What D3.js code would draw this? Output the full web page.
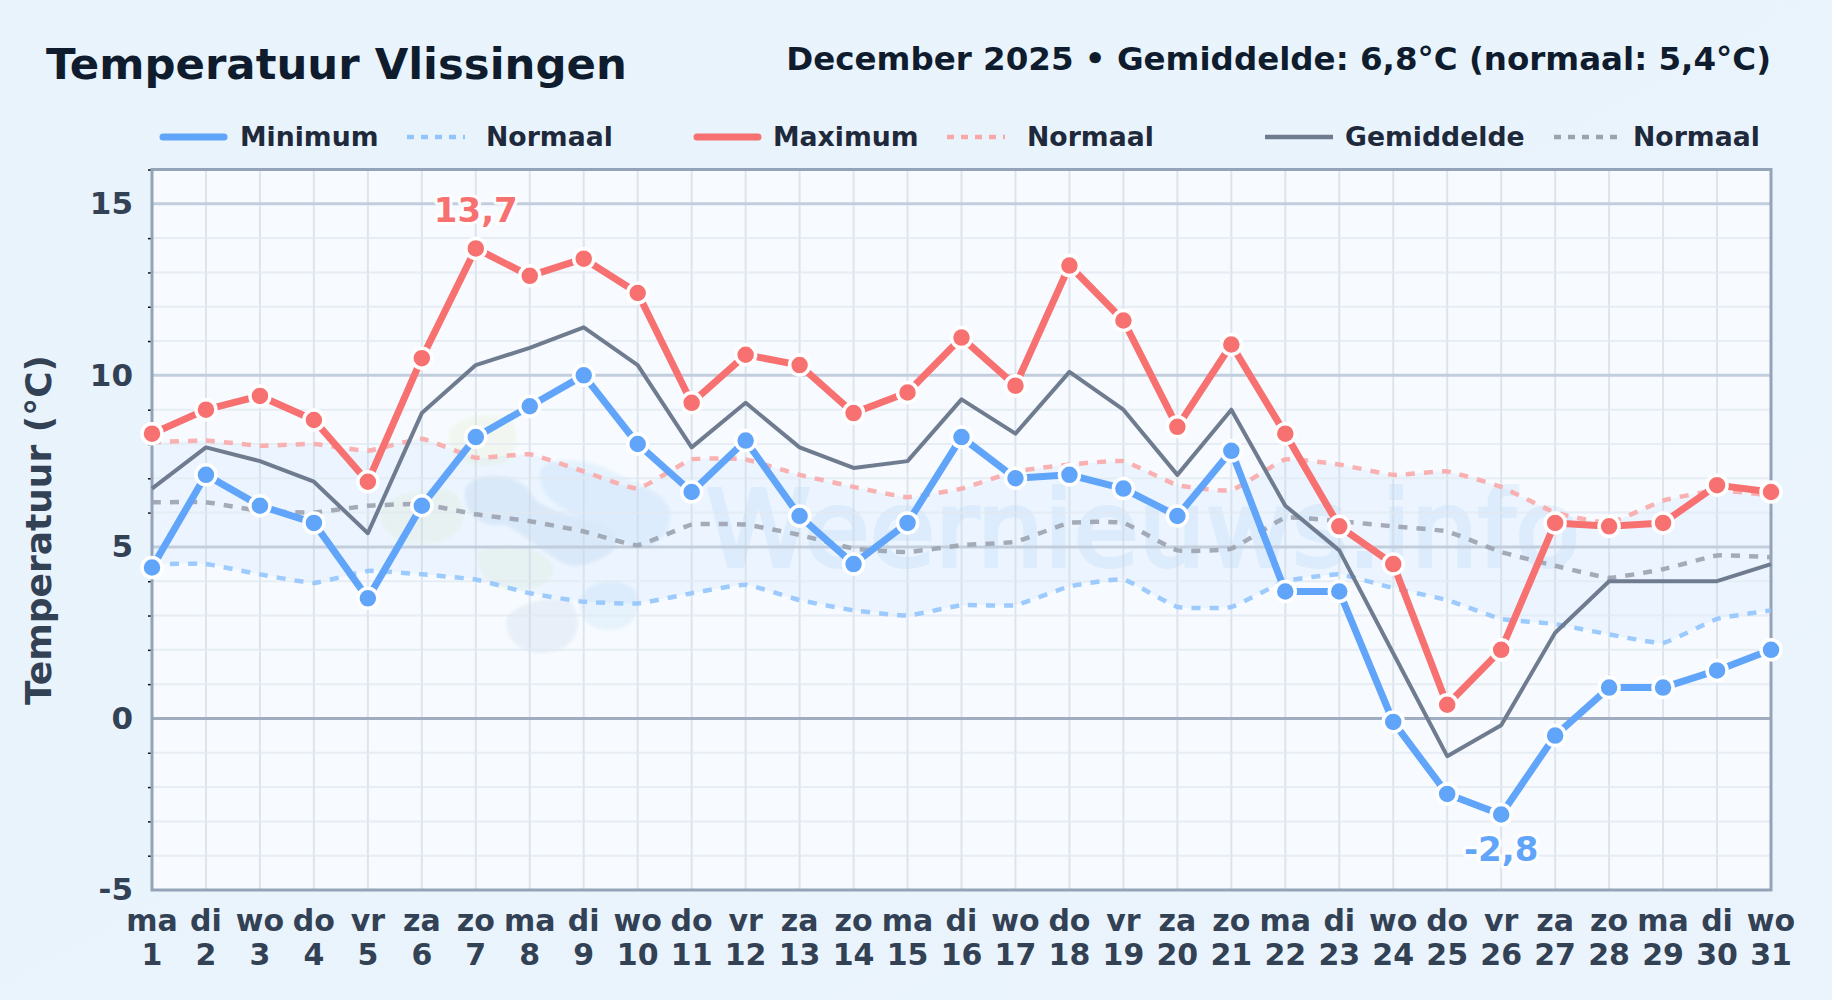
<!DOCTYPE html>
<html>
<head>
<meta charset="utf-8">
<script src="https://d3js.org/d3.v7.min.js"></script>
<style>
  html, body { margin: 0; padding: 0; background: #e9f4fd; overflow: hidden; }
  text { font-family: "DejaVu Sans", sans-serif; font-weight: bold; }
</style>
</head>
<body>
<svg id="chart" width="1832" height="1000"></svg>
<script>
const dayNames = ['ma','di','wo','do','vr','za','zo','ma','di','wo','do','vr','za','zo','ma','di','wo','do','vr','za','zo','ma','di','wo','do','vr','za','zo','ma','di','wo']
const days = d3.range(1, 32)

const tempMin = [4.4,7.1,6.2,5.7,3.5,6.2,8.2,9.1,10.0,8.0,6.6,8.1,5.9,4.5,5.7,8.2,7.0,7.1,6.7,5.9,7.8,3.7,3.7,-0.1,-2.2,-2.8,-0.5,0.9,0.9,1.4,2.0]
const tempMax = [8.3,9.0,9.4,8.7,6.9,10.5,13.7,12.9,13.4,12.4,9.2,10.6,10.3,8.9,9.5,11.1,9.7,13.2,11.6,8.5,10.9,8.3,5.6,4.5,0.4,2.0,5.7,5.6,5.7,6.8,6.6]
const tempAvg = [6.7,7.9,7.5,6.9,5.4,8.9,10.3,10.8,11.4,10.3,7.9,9.2,7.9,7.3,7.5,9.3,8.3,10.1,9.0,7.1,9.0,6.2,4.9,1.9,-1.1,-0.2,2.5,4.0,4.0,4.0,4.5]
const normMin = [4.5,4.5,4.2,3.95,4.3,4.2,4.05,3.65,3.4,3.35,3.65,3.9,3.45,3.15,3.0,3.3,3.3,3.85,4.05,3.25,3.25,4.0,4.2,3.8,3.45,2.9,2.75,2.45,2.2,2.9,3.15]
const normMax = [8.05,8.1,7.95,8.0,7.8,8.15,7.6,7.7,7.2,6.7,7.55,7.55,7.1,6.75,6.45,6.7,7.2,7.4,7.5,6.8,6.65,7.55,7.4,7.1,7.2,6.75,6.0,5.7,6.35,6.65,6.5]
const normAvg = [6.3,6.3,6.05,6.0,6.2,6.25,5.95,5.75,5.45,5.05,5.65,5.65,5.35,4.95,4.85,5.05,5.15,5.7,5.7,4.9,4.95,5.85,5.75,5.6,5.45,4.85,4.45,4.1,4.35,4.75,4.7]

const legendLabels = ['Minimum','Normaal','Maximum','Normaal','Gemiddelde','Normaal']
const majorTicks = [-5,0,5,10,15]
const minorTicks = d3.range(-4, 17).filter(d => d % 5 !== 0)

const blue = '#60a5fa', red = '#f87171', slate = '#6f7c90'

const svg = d3.select('#chart')
const plotL = 152, plotR = 1771, plotT = 169.5, plotB = 890

const x = d3.scaleLinear().domain([1, 31]).range([plotL, plotR])
const y = d3.scaleLinear().domain([-5, 16]).range([plotB, plotT])

const defs = svg.append('defs')
const pageGrad = defs.append('linearGradient').attr('id', 'pageGrad').attr('x1', 0).attr('y1', 0).attr('x2', 1).attr('y2', 1)
pageGrad.append('stop').attr('offset', 0).attr('stop-color', '#e8f3fc')
pageGrad.append('stop').attr('offset', 1).attr('stop-color', '#ebf4fd')
defs.append('filter').attr('id', 'soft').append('feGaussianBlur').attr('stdDeviation', 1.5)
defs.append('clipPath').attr('id', 'plotClip').append('rect')
  .attr('x', plotL).attr('y', plotT).attr('width', plotR - plotL).attr('height', plotB - plotT)

svg.append('rect').attr('width', 1832).attr('height', 1000).attr('fill', 'url(#pageGrad)')
svg.append('rect').attr('x', plotL).attr('y', plotT).attr('width', plotR - plotL).attr('height', plotB - plotT).attr('fill', '#f7fbff')

// watermark
const mark = svg.append('g').attr('clip-path', 'url(#plotClip)')
const logo = mark.append('g').attr('filter', 'url(#soft)').attr('opacity', 0.62)
const blobs = [
  ['M448 440 C446 418 480 412 505 416 C522 420 520 455 505 463 C480 470 450 465 448 440Z', '#eef6e8'],
  ['M380 515 C378 495 420 488 450 490 C470 500 470 535 440 542 C410 548 382 540 380 515Z', '#eef6ea'],
  ['M477 552 C500 540 540 545 553 565 C558 585 530 592 505 590 C485 585 478 570 477 552Z', '#edf5ea'],
  ['M540 470 C548 455 590 458 610 470 C650 490 680 495 668 530 C650 560 620 548 600 525 C570 515 535 500 540 470Z', '#ddeefc'],
  ['M465 490 C470 470 520 470 532 495 C545 515 590 515 615 530 C625 550 600 562 580 566 C560 570 535 540 505 525 C480 530 462 510 465 490Z', '#d8e7f6'],
  ['M580 600 C585 580 620 575 635 590 C642 610 635 630 610 630 C590 630 578 620 580 600Z', '#dcedfb'],
  ['M506 620 C512 605 545 595 570 600 C582 615 582 640 560 650 C530 660 505 645 506 620Z', '#dfe9f4']
]
logo.selectAll('path').data(blobs).enter().append('path')
  .attr('d', d => d[0]).attr('fill', d => d[1])
mark.append('text').text('Weernieuws.info')
  .attr('x', 706).attr('y', 566).attr('font-size', 106)
  .style('font-weight', 'normal').attr('fill', '#cfe4f8').attr('stroke', '#cfe4f8').attr('stroke-width', 4).attr('opacity', 0.42)

// normal band
const soft = d3.curveCardinal.tension(0.65)
const band = d3.area()
  .x((d, i) => x(days[i]))
  .y0((d, i) => y(normMin[i]))
  .y1(d => y(d))
  .curve(soft)
svg.append('path').datum(normMax).attr('d', band).attr('fill', blue).attr('opacity', 0.07)

// grid
svg.append('g').selectAll('line').data(days).enter().append('line')
  .attr('x1', d => x(d)).attr('x2', d => x(d)).attr('y1', plotT).attr('y2', plotB)
  .attr('stroke', '#cbd5e1').attr('stroke-opacity', 0.6).attr('stroke-width', 2)
svg.append('g').selectAll('line').data(minorTicks).enter().append('line')
  .attr('x1', plotL).attr('x2', plotR).attr('y1', d => y(d)).attr('y2', d => y(d))
  .attr('stroke', '#e2e8f0').attr('stroke-opacity', 0.75).attr('stroke-width', 2)
svg.append('g').selectAll('line').data(majorTicks.filter(d => d > -5)).enter().append('line')
  .attr('x1', plotL).attr('x2', plotR).attr('y1', d => y(d)).attr('y2', d => y(d))
  .attr('stroke', d => d === 0 ? '#a0adc0' : '#c3cedd').attr('stroke-width', 3)

// axes
const yAxis = d3.axisLeft(y).tickValues(majorTicks).tickSize(0).tickPadding(19).tickFormat(d => d)
const gy = svg.append('g').attr('transform', `translate(${plotL},0)`).call(yAxis)
gy.select('.domain').remove()
gy.selectAll('text').attr('font-size', 31).attr('fill', '#334155').style('font-family', '"DejaVu Sans"').style('font-weight', 'bold')
svg.append('g').attr('transform', `translate(${plotL},0)`)
  .call(d3.axisLeft(y).tickValues(minorTicks).tickSize(4).tickFormat(''))
  .call(g => g.select('.domain').remove())
  .selectAll('line').attr('stroke', '#111').attr('stroke-width', 1.5)

const gx = svg.append('g').selectAll('text').data(days).enter().append('text')
  .attr('text-anchor', 'middle').attr('font-size', 30).attr('fill', '#334155')
gx.append('tspan').attr('x', d => x(d)).attr('y', 931).text((d, i) => dayNames[i])
gx.append('tspan').attr('x', d => x(d)).attr('y', 965).text(d => d)

svg.append('rect').attr('x', plotL).attr('y', plotT).attr('width', plotR - plotL).attr('height', plotB - plotT)
  .attr('fill', 'none').attr('stroke', '#94a3b8').attr('stroke-width', 3)

svg.append('text').text('Temperatuur (°C)')
  .attr('transform', `translate(51,530) rotate(-90)`)
  .attr('text-anchor', 'middle').attr('font-size', 36).attr('fill', '#334155')

// series
const lineOf = (arr, curve) => d3.line()
  .x((d, i) => x(days[i]))
  .y(d => y(d))
  .curve(curve || d3.curveLinear)(arr)

const series = [
  { v: normMin, color: '#93c5fd', w: 4.5, dash: '9 9', curve: soft, o: 0.9 },
  { v: normMax, color: '#f9a8a8', w: 4.5, dash: '9 9', curve: soft, o: 0.9 },
  { v: normAvg, color: '#9ca3af', w: 4.5, dash: '9 9', curve: soft, o: 0.9 },
  { v: tempAvg, color: slate, w: 4, o: 1 },
  { v: tempMin, color: blue, w: 7, o: 1, dots: true },
  { v: tempMax, color: red, w: 7, o: 1, dots: true }
]
series.forEach(s => {
  svg.append('path').attr('d', lineOf(s.v, s.curve)).attr('fill', 'none')
    .attr('stroke', s.color).attr('stroke-width', s.w).attr('stroke-dasharray', s.dash || null)
    .attr('stroke-opacity', s.o).attr('stroke-linejoin', 'round')
})
series.filter(s => s.dots).forEach(s => {
  svg.append('g').selectAll('circle').data(s.v).enter().append('circle')
    .attr('cx', (d, i) => x(days[i])).attr('cy', d => y(d)).attr('r', 10)
    .attr('fill', s.color).attr('stroke', '#fff').attr('stroke-width', 3.5)
})

// extremes
const fmt = v => String(v).replace('.', ',')
const maxI = d3.maxIndex(tempMax), minI = d3.minIndex(tempMin)
const extremes = [
  { t: fmt(tempMax[maxI]), xv: days[maxI], yv: tempMax[maxI], dy: -26, c: red },
  { t: fmt(tempMin[minI]), xv: days[minI], yv: tempMin[minI], dy: 46, c: blue }
]
svg.append('g').selectAll('text').data(extremes).enter().append('text')
  .text(d => d.t).attr('x', d => x(d.xv)).attr('y', d => y(d.yv) + d.dy)
  .attr('text-anchor', 'middle').attr('font-size', 34).attr('fill', d => d.c)
  .attr('stroke', '#fff').attr('stroke-width', 6).attr('stroke-opacity', 0.9)
  .attr('stroke-linejoin', 'round').style('paint-order', 'stroke')

// titles
svg.append('text').text('Temperatuur Vlissingen').attr('x', 46).attr('y', 79)
  .attr('font-size', 43.4).attr('fill', '#0f1c2e')
svg.append('text').text('December 2025 • Gemiddelde: 6,8°C (normaal: 5,4°C)').attr('x', 1771).attr('y', 70)
  .attr('text-anchor', 'end').attr('font-size', 32.5).attr('fill', '#0f1c2e')

// legend
const legendX = [163, 407, 697, 947, 1265, 1554]
const legendW = [61, 58, 61, 58, 68, 64]
const legendStyle = [
  { c: blue, w: 7 }, { c: '#93c5fd', w: 4.5, dash: '7 7' },
  { c: red, w: 7 }, { c: '#f9a8a8', w: 4.5, dash: '7 7' },
  { c: slate, w: 4.5 }, { c: '#9ca3af', w: 4.5, dash: '7 7' }
]
const legendText = [240, 486, 773, 1027, 1345, 1633]
const lg = svg.append('g')
lg.selectAll('line').data(legendLabels).enter().append('line')
  .attr('x1', (d, i) => legendX[i]).attr('x2', (d, i) => legendX[i] + legendW[i])
  .attr('y1', 137).attr('y2', 137)
  .attr('stroke', (d, i) => legendStyle[i].c).attr('stroke-width', (d, i) => legendStyle[i].w)
  .attr('stroke-dasharray', (d, i) => legendStyle[i].dash || null)
  .attr('stroke-linecap', (d, i) => i % 2 || i === 4 ? 'butt' : 'round')
lg.selectAll('text').data(legendLabels).enter().append('text')
  .text(d => d).attr('x', (d, i) => legendText[i]).attr('y', 146)
  .attr('font-size', 26.7).attr('fill', '#1e293b')
</script>
</body>
</html>
